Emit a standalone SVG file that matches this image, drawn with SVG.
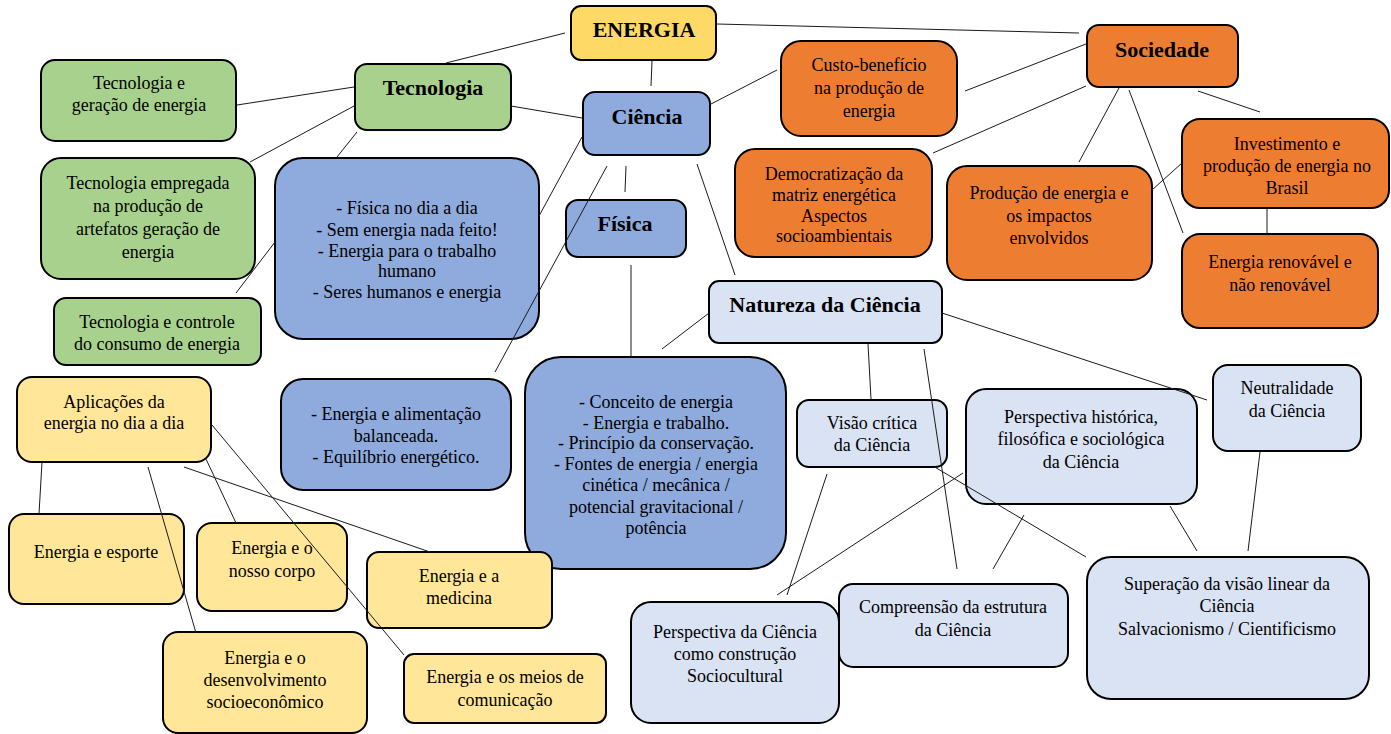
<svg xmlns="http://www.w3.org/2000/svg" width="1391" height="734" viewBox="0 0 1391 734">
<style>
rect{stroke:#000;stroke-width:2}
text{font-family:"Liberation Serif","Times New Roman",serif;font-size:18px;text-anchor:middle;fill:#000}
text.b{font-size:22px;font-weight:bold}
.y{fill:#FFD966}.g{fill:#A9D18E}.bl{fill:#8FAADC}.o{fill:#ED7D31}.lb{fill:#DAE3F3}.ly{fill:#FFE699}
#connectors line{stroke:#1a1a1a;stroke-width:1;fill:none}
</style>
<rect width="1391" height="734" fill="#fff" style="stroke:none"/>
<g id="nodes">
<g id="energia"><rect class="y" x="571" y="6" width="145" height="54" rx="10"/><text class="b" x="644" y="37">ENERGIA</text></g>
<g id="tecnologia"><rect class="g" x="355" y="64" width="156" height="66" rx="12"/><text class="b" x="433" y="95">Tecnologia</text></g>
<g id="tec-geracao"><rect class="g" x="41" y="60" width="195" height="81" rx="14"/><text x="139" y="89">Tecnologia e</text><text x="139" y="111">geração de energia</text></g>
<g id="tec-empregada"><rect class="g" x="41" y="158" width="214" height="121" rx="20"/><text x="148" y="189">Tecnologia empregada</text><text x="148" y="212">na produção de</text><text x="148" y="235">artefatos geração de</text><text x="148" y="258">energia</text></g>
<g id="tec-controle"><rect class="g" x="54" y="298" width="207" height="67" rx="12"/><text x="157" y="328">Tecnologia e controle</text><text x="157" y="350">do consumo de energia</text></g>
<g id="fisica-dia"><rect class="bl" x="275" y="158" width="264" height="181" rx="28"/><text x="407" y="214">- Física no dia a dia</text><text x="407" y="236">- Sem energia nada feito!</text><text x="407" y="257">- Energia para o trabalho</text><text x="407" y="277">humano</text><text x="407" y="298">- Seres humanos e energia</text></g>
<g id="ciencia"><rect class="bl" x="583" y="92" width="127" height="63" rx="12"/><text class="b" x="647" y="124">Ciência</text></g>
<g id="fisica"><rect class="bl" x="566" y="200" width="120" height="57" rx="12"/><text class="b" x="625" y="231">Física</text></g>
<g id="alimentacao"><rect class="bl" x="281" y="379" width="230" height="111" rx="22"/><text x="396" y="420">- Energia e alimentação</text><text x="396" y="442">balanceada.</text><text x="396" y="463">- Equilíbrio energético.</text></g>
<g id="conceito"><rect class="bl" x="525" y="357" width="261" height="212" rx="36"/><text x="656" y="408">- Conceito de energia</text><text x="656" y="429">- Energia e trabalho.</text><text x="656" y="449">- Princípio da conservação.</text><text x="656" y="470">- Fontes de energia / energia</text><text x="656" y="491">cinética / mecânica /</text><text x="656" y="513">potencial gravitacional /</text><text x="656" y="534">potência</text></g>
<g id="custo"><rect class="o" x="781" y="41" width="176" height="95" rx="20"/><text x="869" y="71">Custo-benefício</text><text x="869" y="94">na produção de</text><text x="869" y="117">energia</text></g>
<g id="sociedade"><rect class="o" x="1087" y="25" width="151" height="62" rx="12"/><text class="b" x="1162" y="57">Sociedade</text></g>
<g id="democratizacao"><rect class="o" x="735" y="149" width="197" height="108" rx="20"/><text x="834" y="180">Democratização da</text><text x="834" y="201">matriz energética</text><text x="834" y="222">Aspectos</text><text x="834" y="242">socioambientais</text></g>
<g id="producao"><rect class="o" x="947" y="166" width="205" height="114" rx="20"/><text x="1049" y="199">Produção de energia e</text><text x="1049" y="222">os impactos</text><text x="1049" y="244">envolvidos</text></g>
<g id="investimento"><rect class="o" x="1182" y="119" width="207" height="89" rx="18"/><text x="1287" y="150">Investimento e</text><text x="1287" y="172">produção de energia no</text><text x="1287" y="194">Brasil</text></g>
<g id="renovavel"><rect class="o" x="1182" y="234" width="196" height="94" rx="18"/><text x="1280" y="268">Energia renovável e</text><text x="1280" y="291">não renovável</text></g>
<g id="natureza"><rect class="lb" x="709" y="281" width="233" height="62" rx="10"/><text class="b" x="825" y="312">Natureza da Ciência</text></g>
<g id="visao-critica"><rect class="lb" x="797" y="400" width="150" height="67" rx="12"/><text x="872" y="429">Visão crítica</text><text x="872" y="451">da Ciência</text></g>
<g id="perspectiva-historica"><rect class="lb" x="966" y="389" width="231" height="115" rx="20"/><text x="1081" y="423">Perspectiva histórica,</text><text x="1081" y="445">filosófica e sociológica</text><text x="1081" y="468">da Ciência</text></g>
<g id="neutralidade"><rect class="lb" x="1213" y="365" width="148" height="86" rx="15"/><text x="1287" y="394">Neutralidade</text><text x="1287" y="417">da Ciência</text></g>
<g id="perspectiva-construcao"><rect class="lb" x="631" y="602" width="208" height="121" rx="20"/><text x="735" y="638">Perspectiva da Ciência</text><text x="735" y="660">como construção</text><text x="735" y="682">Sociocultural</text></g>
<g id="compreensao"><rect class="lb" x="839" y="584" width="229" height="83" rx="14"/><text x="953" y="613">Compreensão da estrutura</text><text x="953" y="636">da Ciência</text></g>
<g id="superacao"><rect class="lb" x="1087" y="557" width="282" height="142" rx="24"/><text x="1227" y="590">Superação da visão linear da</text><text x="1227" y="612">Ciência</text><text x="1227" y="635">Salvacionismo / Cientificismo</text></g>
<g id="aplicacoes"><rect class="ly" x="17" y="377" width="194" height="85" rx="15"/><text x="114" y="408">Aplicações da</text><text x="114" y="429">energia no dia a dia</text></g>
<g id="esporte"><rect class="ly" x="9" y="514" width="175" height="90" rx="15"/><text x="96" y="558">Energia e esporte</text></g>
<g id="corpo"><rect class="ly" x="197" y="523" width="150" height="88" rx="15"/><text x="272" y="554">Energia e o</text><text x="272" y="577">nosso corpo</text></g>
<g id="medicina"><rect class="ly" x="367" y="552" width="185" height="76" rx="12"/><text x="459" y="582">Energia e a</text><text x="459" y="604">medicina</text></g>
<g id="desenvolvimento"><rect class="ly" x="163" y="632" width="204" height="101" rx="15"/><text x="265" y="664">Energia e o</text><text x="265" y="686">desenvolvimento</text><text x="265" y="708">socioeconômico</text></g>
<g id="comunicacao"><rect class="ly" x="404" y="654" width="202" height="69" rx="10"/><text x="505" y="683">Energia e os meios de</text><text x="505" y="706">comunicação</text></g>
</g>
<g id="connectors">
<line x1="446" y1="63" x2="565" y2="33"/>
<line x1="237" y1="105" x2="354" y2="87"/>
<line x1="250" y1="162" x2="354" y2="106"/>
<line x1="357" y1="132" x2="337" y2="157"/>
<line x1="236" y1="293" x2="275" y2="242"/>
<line x1="511" y1="106" x2="582" y2="118"/>
<line x1="582" y1="137" x2="539" y2="216"/>
<line x1="607" y1="166" x2="495" y2="372"/>
<line x1="652" y1="61" x2="651" y2="86"/>
<line x1="626" y1="166" x2="625" y2="192"/>
<line x1="697" y1="164" x2="735" y2="275"/>
<line x1="711" y1="104" x2="777" y2="70"/>
<line x1="717" y1="24" x2="1079" y2="33"/>
<line x1="965" y1="91" x2="1086" y2="44"/>
<line x1="933" y1="153" x2="1086" y2="86"/>
<line x1="1119" y1="88" x2="1079" y2="162"/>
<line x1="1129" y1="90" x2="1183" y2="233"/>
<line x1="1198" y1="91" x2="1260" y2="112"/>
<line x1="1152" y1="190" x2="1182" y2="163"/>
<line x1="1267" y1="208" x2="1267" y2="234"/>
<line x1="631" y1="265" x2="631" y2="357"/>
<line x1="709" y1="313" x2="662" y2="349"/>
<line x1="868" y1="344" x2="871" y2="399"/>
<line x1="924" y1="349" x2="957" y2="569"/>
<line x1="942" y1="313" x2="1207" y2="400"/>
<line x1="933" y1="466" x2="1086" y2="557"/>
<line x1="777" y1="595" x2="963" y2="473"/>
<line x1="827" y1="474" x2="787" y2="595"/>
<line x1="1024" y1="515" x2="993" y2="569"/>
<line x1="1170" y1="506" x2="1197" y2="551"/>
<line x1="1260" y1="452" x2="1248" y2="551"/>
<line x1="42" y1="462" x2="39" y2="514"/>
<line x1="148" y1="467" x2="196" y2="633"/>
<line x1="206" y1="459" x2="236" y2="523"/>
<line x1="184" y1="467" x2="430" y2="552"/>
<line x1="212" y1="425" x2="404" y2="655"/>
</g>
</svg>
